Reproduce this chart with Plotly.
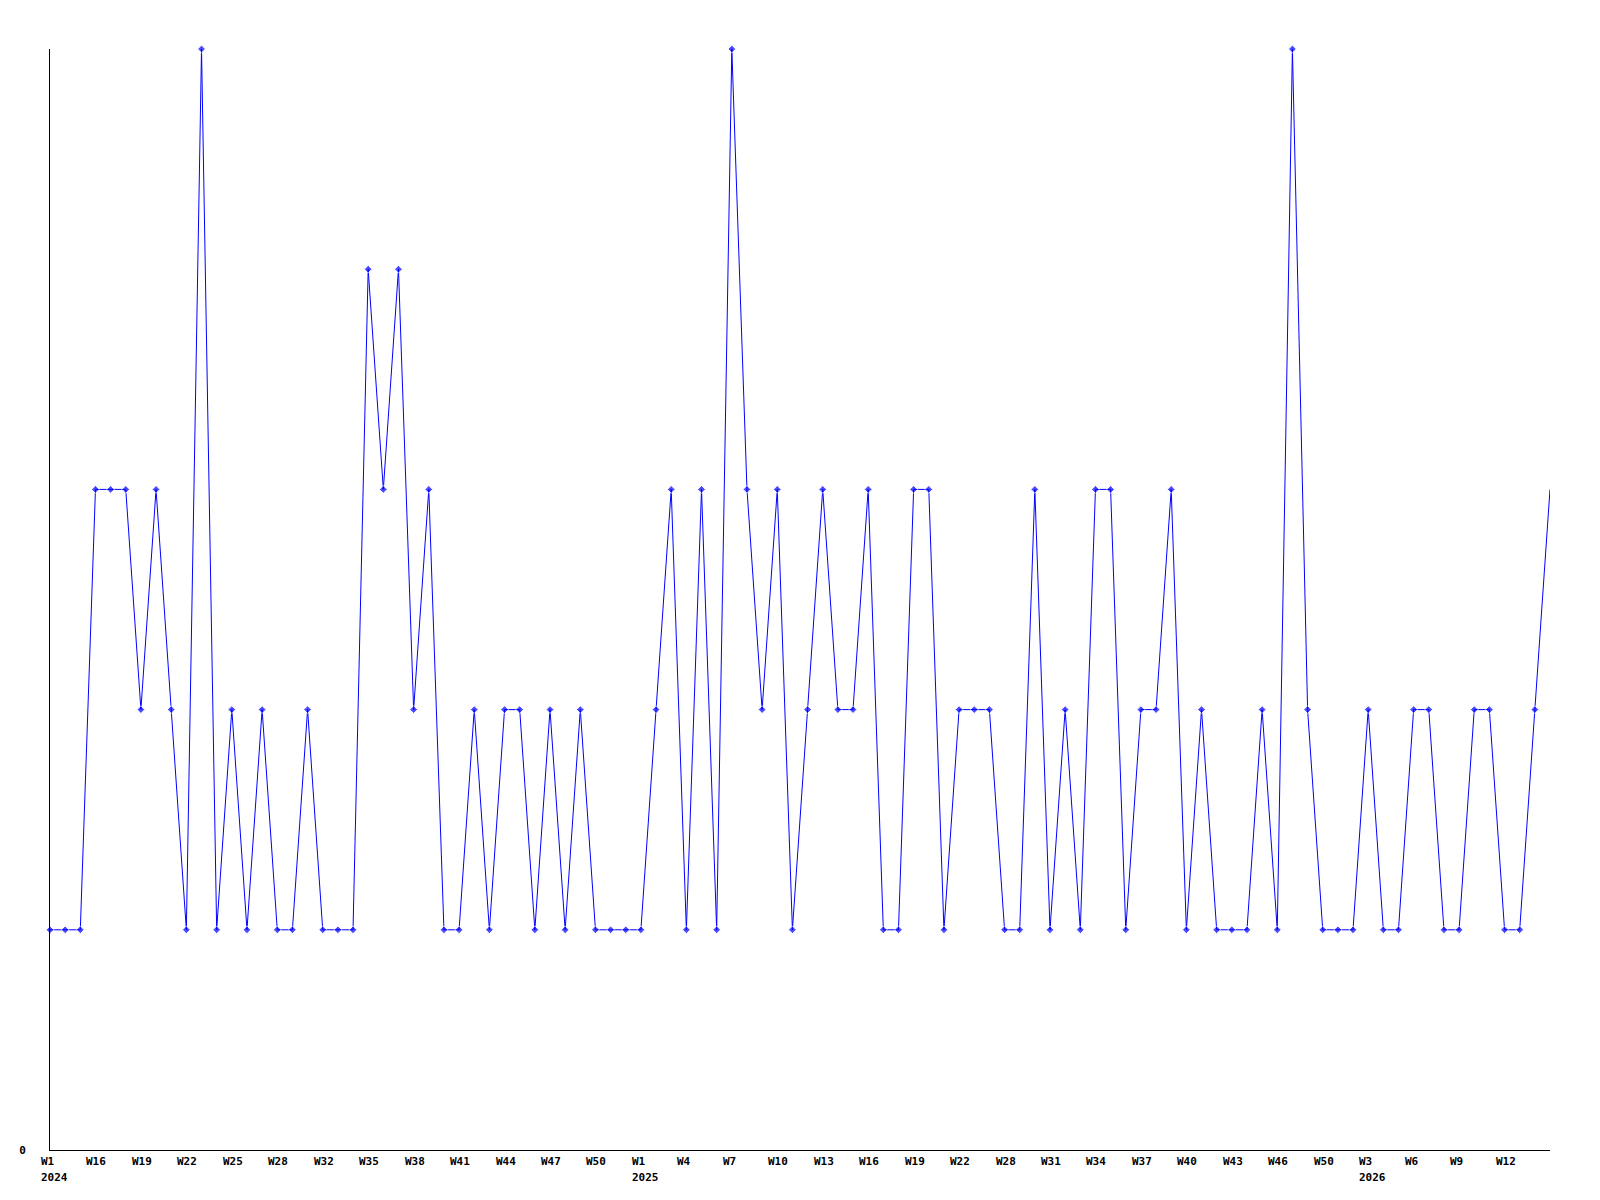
import plotly.graph_objects as go

# ---- data ----
years = [2024] * 39 + [2025] * 48 + [2026] * 13
week_numbers = [
    1, 14, 15, 16, 17, 18, 19, 20, 21, 22, 23, 24, 25, 26, 27, 28, 29, 31, 32, 33,
    34, 35, 36, 37, 38, 39, 40, 41, 42, 43, 44, 45, 46, 47, 48, 49, 50, 51, 52,
    1, 2, 3, 4, 5, 6, 7, 8, 9, 10, 11, 12, 13, 14, 15, 16, 17, 18, 19, 20, 21,
    22, 24, 26, 28, 29, 30, 31, 32, 33, 34, 35, 36, 37, 38, 39, 40, 41, 42, 43,
    44, 45, 46, 47, 49, 50, 51, 52,
    3, 4, 5, 6, 7, 8, 9, 10, 11, 12, 13, 14, 15,
]
values = [
    1, 1, 1, 3, 3, 3, 2, 3, 2, 1, 5, 1, 2, 1, 2, 1, 1, 2, 1, 1,
    1, 4, 3, 4, 2, 3, 1, 1, 2, 1, 2, 2, 1, 2, 1, 2, 1, 1, 1, 1,
    2, 3, 1, 3, 1, 5, 3, 2, 3, 1, 2, 3, 2, 2, 3, 1, 1, 3, 3, 1,
    2, 2, 2, 1, 1, 3, 1, 2, 1, 3, 3, 1, 2, 2, 3, 1, 2, 1, 1, 1,
    2, 1, 5, 2, 1, 1, 1, 2, 1, 1, 2, 2, 1, 1, 2, 2, 1, 1, 2, 3,
]
y_tick_values = [0]
y_tick_labels = ["0"]

# ---- derived ----
categories = [f"{y}-W{w:02d}" for y, w in zip(years, week_numbers)]

label_font = dict(family="DejaVu Sans Mono", size=11, color="black", weight="bold")

annotations = []
seen_years = set()
for i in range(0, len(categories) - 1, 3):
    common = dict(x=categories[i], y=0, xref="x", yref="paper", showarrow=False,
                  xanchor="left", yanchor="top", align="left", xshift=-11,
                  font=label_font)
    annotations.append(dict(text=f"W{week_numbers[i]}", yshift=-3, **common))
    if years[i] not in seen_years:
        seen_years.add(years[i])
        annotations.append(dict(text=str(years[i]), yshift=-19, **common))

sizes = [6] * (len(values) - 1) + [0]

fig = go.Figure(
    go.Scatter(
        x=categories,
        y=values,
        mode="lines+markers",
        line=dict(color="#0000ff", width=1),
        marker=dict(symbol="diamond", size=sizes, color="#0000ff"),
        cliponaxis=False,
        hoverinfo="x+y",
    )
)

fig.update_layout(
    width=1600,
    height=1200,
    margin=dict(l=42, r=58, t=41, b=58),
    paper_bgcolor="white",
    plot_bgcolor="white",
    showlegend=False,
    font=dict(family="DejaVu Sans Mono", size=11, color="black"),
    annotations=annotations,
)

fig.update_xaxes(
    type="category",
    categoryorder="array",
    categoryarray=categories,
    range=[0, len(categories) - 1],
    showticklabels=False,
    showgrid=False,
    zeroline=False,
    showline=True,
    linecolor="black",
    linewidth=1,
    ticks="",
    automargin=False,
)

fig.update_yaxes(
    range=[0, 5],
    tickmode="array",
    tickvals=y_tick_values,
    ticktext=y_tick_labels,
    showgrid=False,
    zeroline=False,
    showline=True,
    linecolor="black",
    linewidth=1,
    ticks="",
    ticklabelstandoff=21,
    tickfont=label_font,
    automargin=False,
)

fig.write_html("out.html")
